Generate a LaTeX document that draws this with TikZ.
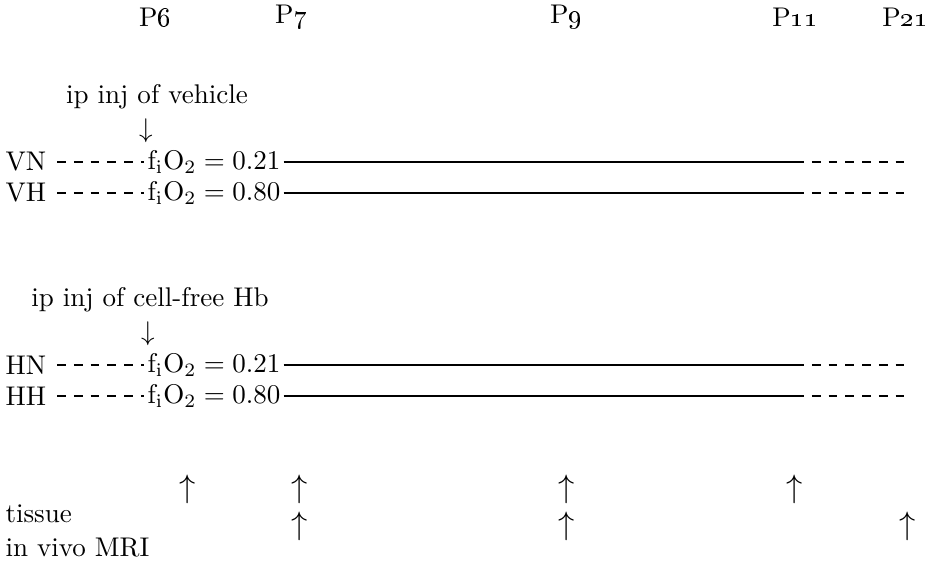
\documentclass[tikz,border=0pt]{standalone}
\usepackage{amsmath,amssymb}
\usepackage{tikz}
\usepackage{xcolor}

\begin{document}
\begin{tikzpicture}[
  x=0.37pt, y=-0.37pt,
  day/.style={font=\normalsize},
  grp/.style={anchor=west, inner sep=0pt},
  frac/.style={inner sep=1pt},
  glyph/.style={inner sep=0pt, font=\large},
  drop/.style={inner sep=0pt},
  hold/.style={thick, dash pattern=on 3.3pt off 2.9pt},
  expo/.style={thick},
]
  \useasboundingbox (0,0) rectangle (932,563);

  % postnatal days
  \node[day] (p6)  at (155,17) {P\oldstylenums{6}};
  \node[day] (p7)  at (291,17) {P\oldstylenums{7}};
  \node[day] (p9)  at (566,17) {P\oldstylenums{9}};
  \node[day] (p11) at (795,17) {P\oldstylenums{11}};
  \node[day] (p21) at (905,17) {P\oldstylenums{21}};

  % vehicle groups
  \node (vinj)  at (157,97)  {ip inj of vehicle};
  \node[drop] (vdown) at (146,131) {$\downarrow$};
  \node[grp] (vn) at (5,162) {VN};
  \node[grp] (vh) at (5,193) {VH};
  \node[frac] (vnf) at (214,162) {$\mathrm{f_iO_2} = 0.21$};
  \node[frac] (vhf) at (214,193) {$\mathrm{f_iO_2} = 0.80$};

  % cell-free Hb groups
  \node (hinj)  at (150,300) {ip inj of cell-free Hb};
  \node[drop] (hdown) at (148,334) {$\downarrow$};
  \node[grp] (hn) at (5,365) {HN};
  \node[grp] (hh) at (5,396) {HH};
  \node[frac] (hnf) at (214,365) {$\mathrm{f_iO_2} = 0.21$};
  \node[frac] (hhf) at (214,396) {$\mathrm{f_iO_2} = 0.80$};

  \coordinate (vnl) at (57,162);  \coordinate (vhl) at (57,193);
  \coordinate (hnl) at (57,365);  \coordinate (hhl) at (57,396);
  \coordinate (vnr) at (795,162); \coordinate (vhr) at (795,193);
  \coordinate (hnr) at (795,365); \coordinate (hhr) at (795,396);
  \coordinate (vne) at (910,162); \coordinate (vhe) at (910,193);
  \coordinate (hne) at (910,365); \coordinate (hhe) at (910,396);

  \draw[hold] (vnl) -- (vnf.west);
  \draw[hold] (vhl) -- (vhf.west);
  \draw[hold] (hnl) -- (hnf.west);
  \draw[hold] (hhl) -- (hhf.west);

  \draw[expo] (vnf.east) -- (vnr);
  \draw[expo] (vhf.east) -- (vhr);
  \draw[expo] (hnf.east) -- (hnr);
  \draw[expo] (hhf.east) -- (hhr);

  \draw[hold] (vnr) -- (vne);
  \draw[hold] (vhr) -- (vhe);
  \draw[hold] (hnr) -- (hne);
  \draw[hold] (hhr) -- (hhe);

  % sampling
  \node[grp] (tissue) at (5,514) {tissue};
  \node[grp] (mri)    at (5,548) {in vivo MRI};
  \node[glyph] (t6)  at (188,489) {$\uparrow$};
  \node[glyph] (t7)  at (300,489) {$\uparrow$};
  \node[glyph] (t9)  at (567,489) {$\uparrow$};
  \node[glyph] (t11) at (795,489) {$\uparrow$};
  \node[glyph] (m7)  at (300,526) {$\uparrow$};
  \node[glyph] (m9)  at (567,526) {$\uparrow$};
  \node[glyph] (m21) at (908,526) {$\uparrow$};
\end{tikzpicture}
\end{document}
